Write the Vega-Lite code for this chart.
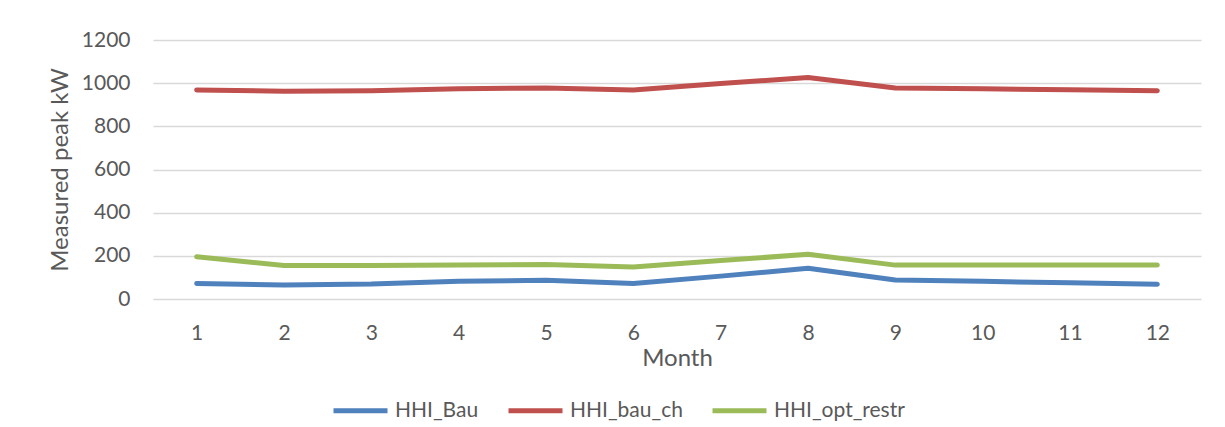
{
  "$schema": "https://vega.github.io/schema/vega-lite/v6.json",
  "autosize": {"type": "none"},
  "width": 1048,
  "height": 259,
  "padding": {"left": 153, "top": 40, "right": 24, "bottom": 128},
  "background": "white",
  "config": {
    "font": "Lato",
    "view": {"stroke": null},
    "axis": {"labelColor": "#595959", "titleColor": "#595959", "labelFont": "Lato", "titleFont": "Lato", "titleFontWeight": "normal"},
    "legend": {"labelColor": "#595959", "labelFont": "Lato"}
  },
  "data": {
    "values": [
      {"month": 1, "series": "HHI_Bau", "value": 72},
      {"month": 2, "series": "HHI_Bau", "value": 65},
      {"month": 3, "series": "HHI_Bau", "value": 69},
      {"month": 4, "series": "HHI_Bau", "value": 82},
      {"month": 5, "series": "HHI_Bau", "value": 87},
      {"month": 6, "series": "HHI_Bau", "value": 72},
      {"month": 7, "series": "HHI_Bau", "value": 106},
      {"month": 8, "series": "HHI_Bau", "value": 142},
      {"month": 9, "series": "HHI_Bau", "value": 88},
      {"month": 10, "series": "HHI_Bau", "value": 82},
      {"month": 11, "series": "HHI_Bau", "value": 75},
      {"month": 12, "series": "HHI_Bau", "value": 68},
      {"month": 1, "series": "HHI_bau_ch", "value": 968},
      {"month": 2, "series": "HHI_bau_ch", "value": 963},
      {"month": 3, "series": "HHI_bau_ch", "value": 965},
      {"month": 4, "series": "HHI_bau_ch", "value": 974},
      {"month": 5, "series": "HHI_bau_ch", "value": 978},
      {"month": 6, "series": "HHI_bau_ch", "value": 968},
      {"month": 7, "series": "HHI_bau_ch", "value": 998},
      {"month": 8, "series": "HHI_bau_ch", "value": 1026},
      {"month": 9, "series": "HHI_bau_ch", "value": 978},
      {"month": 10, "series": "HHI_bau_ch", "value": 974},
      {"month": 11, "series": "HHI_bau_ch", "value": 969},
      {"month": 12, "series": "HHI_bau_ch", "value": 965},
      {"month": 1, "series": "HHI_opt_restr", "value": 196},
      {"month": 2, "series": "HHI_opt_restr", "value": 155},
      {"month": 3, "series": "HHI_opt_restr", "value": 155},
      {"month": 4, "series": "HHI_opt_restr", "value": 157},
      {"month": 5, "series": "HHI_opt_restr", "value": 160},
      {"month": 6, "series": "HHI_opt_restr", "value": 148},
      {"month": 7, "series": "HHI_opt_restr", "value": 178},
      {"month": 8, "series": "HHI_opt_restr", "value": 207},
      {"month": 9, "series": "HHI_opt_restr", "value": 157},
      {"month": 10, "series": "HHI_opt_restr", "value": 157},
      {"month": 11, "series": "HHI_opt_restr", "value": 158},
      {"month": 12, "series": "HHI_opt_restr", "value": 157}
    ]
  },
  "mark": {"type": "line", "strokeWidth": 5, "strokeCap": "round", "strokeJoin": "round"},
  "encoding": {
    "x": {
      "field": "month",
      "type": "ordinal",
      "scale": {"type": "point", "padding": 0.5},
      "axis": {
        "title": "Month",
        "labelAngle": 0,
        "labelFontSize": 21,
        "titleFontSize": 24,
        "ticks": false,
        "domain": false,
        "grid": false,
        "labelPadding": 23,
        "titlePadding": 3
      }
    },
    "y": {
      "field": "value",
      "type": "quantitative",
      "scale": {"domain": [0, 1200], "nice": false},
      "axis": {
        "title": "Measured peak kW",
        "format": "d",
        "values": [0, 200, 400, 600, 800, 1000, 1200],
        "labelFontSize": 21,
        "titleFontSize": 24,
        "ticks": false,
        "domain": false,
        "grid": true,
        "gridColor": "#d9d9d9",
        "gridWidth": 1.3,
        "labelPadding": 23,
        "titlePadding": 9
      }
    },
    "color": {
      "field": "series",
      "type": "nominal",
      "scale": {"domain": ["HHI_Bau", "HHI_bau_ch", "HHI_opt_restr"], "range": ["#4F81BD", "#C0504D", "#9BBB59"]},
      "legend": {
        "title": null,
        "orient": "none",
        "legendX": 178,
        "legendY": 341,
        "direction": "horizontal",
        "symbolType": "stroke",
        "symbolSize": 2916,
        "symbolStrokeWidth": 5,
        "labelFontSize": 21,
        "labelOffset": 5,
        "columnPadding": 19
      }
    }
  }
}
